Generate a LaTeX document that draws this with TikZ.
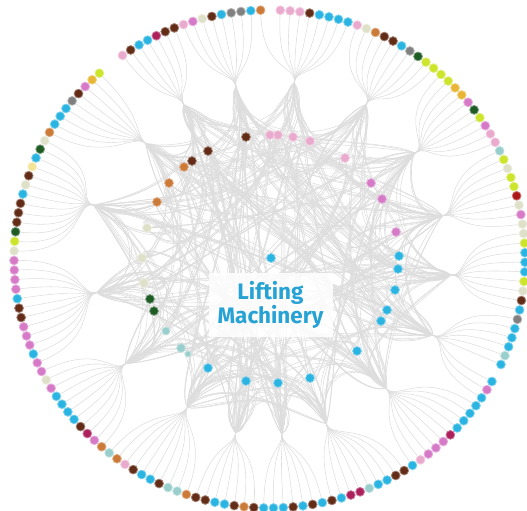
\documentclass[tikz,border=0pt]{standalone}
\usepackage{fontspec}
\setmainfont{Fira Sans}
\usetikzlibrary{calc}
\definecolor{cbl}{RGB}{41,180,226}
\definecolor{cbr}{RGB}{98,44,22}
\definecolor{cor}{RGB}{204,122,56}
\definecolor{cch}{RGB}{214,122,200}
\definecolor{clp}{RGB}{234,170,205}
\definecolor{cli}{RGB}{204,228,42}
\definecolor{cdg}{RGB}{30,92,36}
\definecolor{cgr}{RGB}{128,128,128}
\definecolor{cgo}{RGB}{232,182,52}
\definecolor{cmg}{RGB}{172,32,92}
\definecolor{cpa}{RGB}{222,224,200}
\definecolor{cpy}{RGB}{242,228,150}
\definecolor{cte}{RGB}{152,206,204}
\definecolor{crd}{RGB}{172,22,22}
\definecolor{clabel}{RGB}{38,162,212}
\definecolor{clink}{RGB}{221,221,221}
\pgfdeclarelayer{bg}
\pgfsetlayers{bg,main}
\newcount\dotno
\def\nodot{none}
\tikzset{
  net/.style={x=1bp,y=1bp},
  outdot/.style={circle,fill=#1,draw=#1!60!white,line width=0.8bp,minimum size=8.8bp,inner sep=0pt},
  link/.style={draw=clink,line width=0.55bp},
  tag/.style={fill=white,fill opacity=0.85,text opacity=1,text=clabel,align=center,
    font=\bfseries\fontsize{22.5}{24}\selectfont,minimum width=124bp,minimum height=64bp}
}

\begin{document}
\begin{tikzpicture}[net]
    \useasboundingbox (-269.5,-252) rectangle (257.5,259);
    \coordinate (mid) at (0,0);
    \def\hubs{1/82/178,2/58/182,3/36/180,4/14/178,5/-5/182,6/-25/180,7/-48/174,8/-71/174,9/-86/175,
      10/-101/177,11/-119/169,12/-144/178,13/-169/176,14/-197/184,15/-223/169,16/-241/176,17/-259/175}
    \foreach \k/\b/\r in \hubs \coordinate (h\k) at (\b:\r);
    % outer ring, one list per fan
    \foreach \k/\cols in {1/{cor,none,clp,clp,clp,cbr,cbl,cbl,cbl,cbl},
        2/{clp,cpa,cor,cbr,cbr,cbl,cgr,cdg,cli,cli},
        3/{cli,cli,cgo,cgo,cch,cdg,cli,cch,clp,clp},
        4/{cte,cli,cpa,cli,cli,crd,cpa,cch,cpa},
        5/{cpa,cli,cbl,cbl,cbl,cli,cpa,cbr,cbl},
        6/{cgr,cbl,cbl,cbl,cte,cbl,none,cbl,cch,cbl},
        7/{cbl,cbl,cbl,cbl,cmg,cch,cch,cch,clp,cbl},
        8/{cbr,cbr,cbl,cbl,cte,cmg,cmg,cbl,cbr},
        9/{cbl,cbr,cbl,cbr,cbl,cbl,cbl},
        10/{cbr,cor,cbr,cbl,cbl,cbr,cbr},
        11/{cor,cte,cte,cbr,cbl,cbl,cbr,clp,cor,cte},
        12/{cor,cch,cmg,cbr,cbl,cbl,cbl,cbl,cch,cpa,cch},
        13/{cch,cbl,cch,cch,cch,cbr,cbr,cbl,cch,cch,cch,cch},
        14/{cpa,cli,cdg,cbr,cbr,cbr,cbl,cpa,cbr,cpy,cbl,cdg,cpa},
        15/{cor,cbl,cbl,cbl,cgr,cbr,cch,cgo,cli,none},
        16/{none,clp,cbr,cbl,cbl,cmg,cbr,cbr},
        17/{clp,cch,cpa,cbr,cbl,cgr,cgr,cbl}} {
      \foreach \col in \cols {
        \global\advance\dotno by 1
        \edef\idx{\the\dotno}
        \edef\cname{\col}
        \ifx\cname\nodot\else
          \pgfmathsetmacro\a{92-(\idx-1)*2.2086}
          \node[outdot=\col] (o\idx) at (\a:255.5 and 249) {};
          \begin{pgfonlayer}{bg}
            \draw[link] (o\idx) .. controls (\a:188) and ($(h\k)!-0.1!(mid)$) .. (h\k);
          \end{pgfonlayer}
        \fi
      }
    }
    % inner ring
    \foreach \j/\x/\y/\col/\sz in {1/-23.5/122/cbr/8.8,2/0.5/124/clp/8.8,3/8.5/124/clp/8.8,4/23.5/122/clp/8.8,
        5/40.5/118/clp/8.8,6/75.5/101/clp/8.8,7/101.5/76/cch/8.8,8/112.5/60/cch/8.8,9/126.5/27/cch/8.8,
        10/129.5/3/cbl/8.8,11/128.5/-10/cbl/8.8,12/125.5/-31/cbl/8.8,13/117.5/-51/cbl/8.8,14/111.5/-62/cbl/8.8,
        15/87.5/-92/cbl/8.8,16/40.5/-119/cbl/8.8,17/8.5/-124/cbl/8.8,18/-23.5/-122/cbl/8.8,19/-61.5/-109/cbl/8.8,
        20/-81.5/-95/cte/6,21/-88.5/-89/cte/8.8,22/-103.5/-72/cte/8,23/-115.5/-52/cdg/8.8,24/-119.5/-40/cdg/8.8,
        25/-125.5/-24/cpa/8.8,26/-127.5/1/cpa/8.8,27/-122.5/31/cpa/8.8,28/-112.5/57/cor/8.8,29/-100.5/76/cor/8.8,
        30/-85.5/92/cor/8.8,31/-77.5/98/cbr/8.8,32/-61.5/108/cbr/8.8}
      \node[outdot=\col,minimum size=\sz bp] (n\j) at (\x,\y) {};
    \node[outdot=cbl] (c0) at (1.5,1) {};
    % bundles across the middle
    \pgfmathsetseed{11}
    \begin{pgfonlayer}{bg}
    \foreach \k/\b/\r in \hubs {
      \foreach \m in {1,...,9} {
        \pgfmathtruncatemacro\t{random(1,49)}
        \ifnum\t>32 \pgfmathtruncatemacro\u{\t-32}%
          \ifnum\u=\k \edef\tgt{n\k}\else\edef\tgt{h\u}\fi
        \else\edef\tgt{n\t}\fi
        \pgfmathsetmacro\dxa{rand*40}\pgfmathsetmacro\dya{rand*40}
        \pgfmathsetmacro\dxb{rand*45}\pgfmathsetmacro\dyb{rand*45}
        \pgfmathsetmacro\fa{0.2+0.25*rnd}\pgfmathsetmacro\fb{0.15+0.3*rnd}
        \foreach \s in {1,...,3}
          \draw[link] (h\k) .. controls ($(h\k)!\fa!(mid)+({\dxa+rand*4},{\dya+rand*4})$)
            and ($(\tgt)!\fb!(mid)+({\dxb+rand*5},{\dyb+rand*5})$) .. (\tgt);
      }
      % loops to the next hubs round the ring
      \foreach \d in {1,2,3} {
        \pgfmathtruncatemacro\u{mod(\k+\d-1,17)+1}
        \pgfmathsetmacro\fa{0.25+0.2*rnd}
        \foreach \s in {1,2}
          \draw[link] (h\k) .. controls ($(h\k)!\fa!(mid)+({rand*8},{rand*8})$)
            and ($(h\u)!\fa!(mid)+({rand*8},{rand*8})$) .. (h\u);
      }
    }
    \end{pgfonlayer}
    \node[tag] (lm) at (1,-46) {Lifting\\Machinery};
  \end{tikzpicture}
\end{document}
